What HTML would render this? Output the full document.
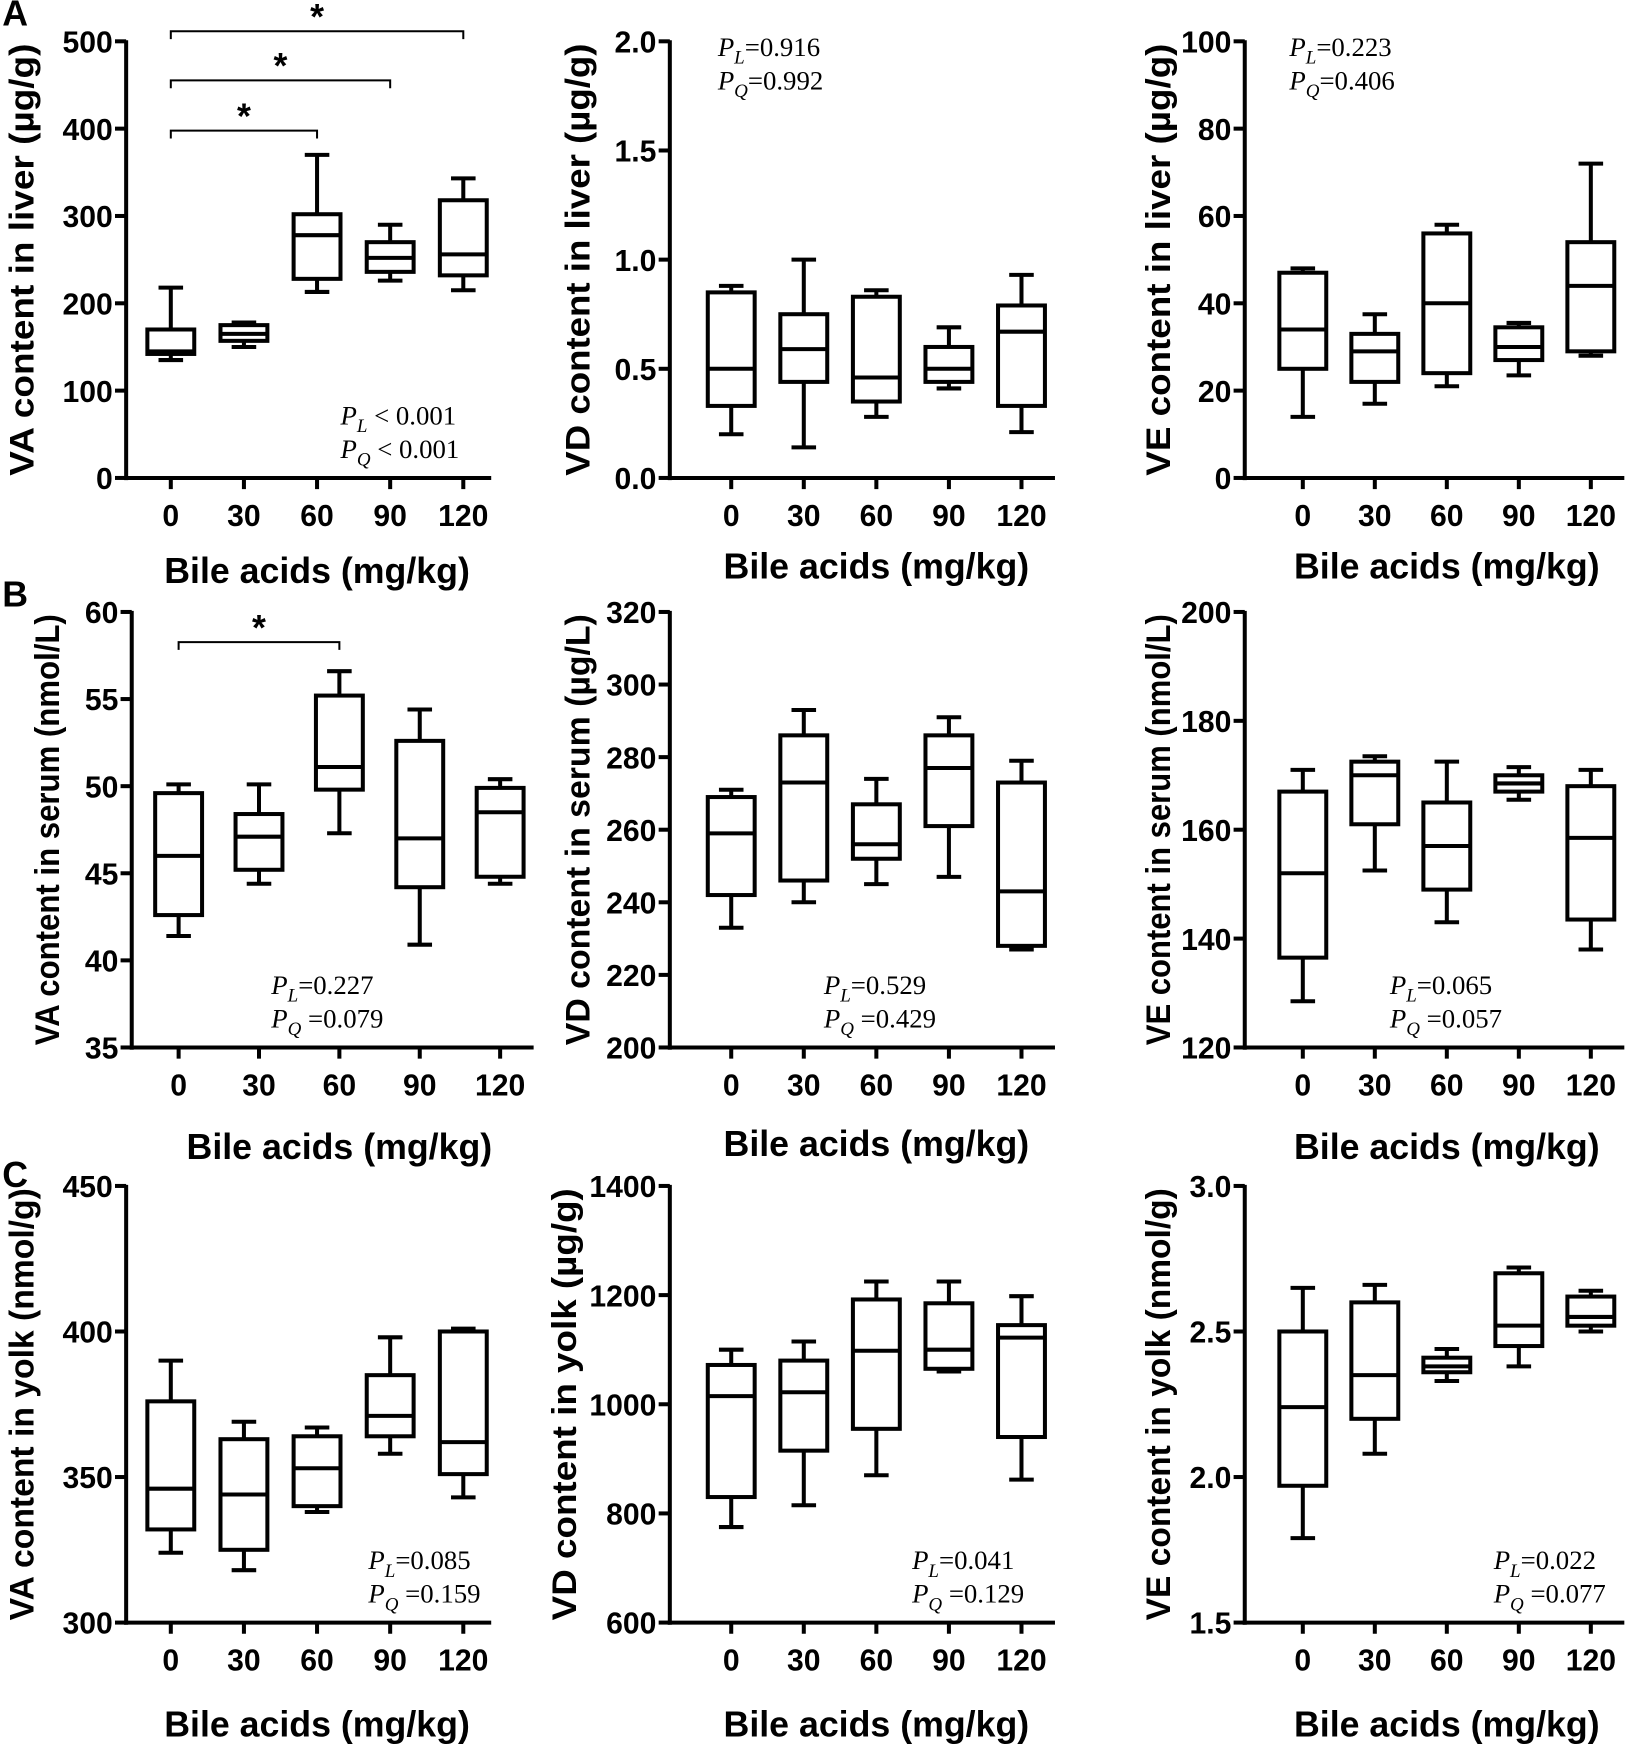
<!DOCTYPE html>
<html><head><meta charset="utf-8"><style>
html,body{margin:0;padding:0;background:#fff;}
svg{display:block;}
.tick{font-family:"Liberation Sans",Arial,sans-serif;font-weight:bold;font-size:27px;}
.ttl{font-family:"Liberation Sans",Arial,sans-serif;font-weight:bold;font-size:32px;}
.ytl{font-family:"Liberation Sans",Arial,sans-serif;font-weight:bold;font-size:31px;}
.pv{font-family:"Liberation Serif",serif;font-size:24px;}
</style></head><body>
<svg id="fig" width="1650" height="1751" viewBox="0 0 1478 1568" preserveAspectRatio="none" xmlns="http://www.w3.org/2000/svg"></svg>
<script>
const categories = ["0","30","60","90","120"];
// five-number summaries [min,q1,median,q3,max] per group
const vaLiver = [[135,142,145,170,218],[150,157,165,175,178],[213,228,278,302,370],[226,236,252,270,290],[215,232,256,318,343]];
const vdLiver = [[0.2,0.33,0.5,0.85,0.88],[0.14,0.44,0.59,0.75,1.0],[0.28,0.35,0.46,0.83,0.86],[0.41,0.44,0.5,0.6,0.69],[0.21,0.33,0.67,0.79,0.93]];
const veLiver = [[14,25,34,47,48],[17,22,29,33,37.5],[21,24,40,56,58],[23.5,27,30,34.5,35.5],[28,29,44,54,72]];
const vaSerum = [[41.4,42.6,46,49.6,50.1],[44.4,45.2,47.1,48.4,50.1],[47.3,49.8,51.1,55.2,56.6],[40.9,44.2,47,52.6,54.4],[44.4,44.8,48.5,49.9,50.4]];
const vdSerum = [[233,242,259,269,271],[240,246,273,286,293],[245,252,256,267,274],[247,261,277,286,291],[227,228,243,273,279]];
const veSerum = [[128.5,136.5,152,167,171],[152.5,161,170,172.5,173.5],[143,149,157,165,172.5],[165.5,167,168.5,170,171.5],[138,143.5,158.5,168,171]];
const vaYolk = [[324,332,346,376,390],[318,325,344,363,369],[338,340,353,364,367],[358,364,371,385,398],[343,351,362,400,401]];
const vdYolk = [[775,830,1015,1072,1100],[815,915,1022,1080,1115],[870,955,1098,1192,1225],[1060,1065,1100,1185,1225],[862,940,1122,1145,1198]];
const veYolk = [[1.79,1.97,2.24,2.5,2.65],[2.08,2.2,2.35,2.6,2.66],[2.33,2.36,2.38,2.41,2.44],[2.38,2.45,2.52,2.7,2.72],[2.5,2.52,2.55,2.62,2.64]];
const ticksVaLiver = ["0","100","200","300","400","500"];
const ticksVdLiver = ["0.0","0.5","1.0","1.5","2.0"];
const ticksVeLiver = ["0","20","40","60","80","100"];
const ticksVaSerum = ["35","40","45","50","55","60"];
const ticksVdSerum = ["200","220","240","260","280","300","320"];
const ticksVeSerum = ["120","140","160","180","200"];
const ticksVaYolk = ["300","350","400","450"];
const ticksVdYolk = ["600","800","1000","1200","1400"];
const ticksVeYolk = ["1.5","2.0","2.5","3.0"];

const NS="http://www.w3.org/2000/svg";
const svg=document.getElementById('fig');
function el(tag,attrs,parent,text){const e=document.createElementNS(NS,tag);for(const k in attrs)e.setAttribute(k,attrs[k]);if(text!==undefined)e.textContent=text;(parent||svg).appendChild(e);return e;}

function panel(cfg){
  const g=el('g',{});
  
  
  const ticks=cfg.ticks.map(Number);
  const lo=ticks[0],hi=ticks[ticks.length-1];
  const y=v=>cfg.yb-(v-lo)/(hi-lo)*(cfg.yb-cfg.yt);
  const x=i=>cfg.xs[0]+i*(cfg.xs[1]-cfg.xs[0])/4;
  const st={stroke:'#000','stroke-width':3.6,fill:'none'};
  const ya=el('line',Object.assign({x1:cfg.ax,y1:cfg.yt-1,x2:cfg.ax,y2:cfg.yb+2},st),g);
  
  const xa=el('line',Object.assign({x1:cfg.ax-2,y1:cfg.yb,x2:cfg.xend,y2:cfg.yb},st),g);
  
  cfg.ticks.forEach((t,i)=>{
    const yy=y(Number(t));
    el('line',Object.assign({x1:cfg.ax-10,y1:yy,x2:cfg.ax,y2:yy},st),g);
    const tx=el('text',{x:cfg.ax-12,y:yy+10,'text-anchor':'end',class:'tick'},g,t);
    
  });
  categories.forEach((c,i)=>{
    el('line',Object.assign({x1:x(i),y1:cfg.yb,x2:x(i),y2:cfg.yb+10},st),g);
    const tx=el('text',{x:x(i),y:cfg.yb+43,'text-anchor':'middle',class:'tick','font-size':29},g,c);
    
    const d=cfg.data[i];
    const b=el('g',{},g);
    
    
    const w=21,cw=11;
    el('rect',Object.assign({x:x(i)-w,y:y(d[3]),width:2*w,height:y(d[1])-y(d[3])},st),b);
    el('line',Object.assign({x1:x(i)-w,y1:y(d[2]),x2:x(i)+w,y2:y(d[2])},st),b);
    el('line',Object.assign({x1:x(i),y1:y(d[3]),x2:x(i),y2:y(d[4])},st),b);
    el('line',Object.assign({x1:x(i),y1:y(d[1]),x2:x(i),y2:y(d[0])},st),b);
    el('line',Object.assign({x1:x(i)-cw,y1:y(d[4]),x2:x(i)+cw,y2:y(d[4])},st),b);
    el('line',Object.assign({x1:x(i)-cw,y1:y(d[0]),x2:x(i)+cw,y2:y(d[0])},st),b);
  });
  const yt=el('text',{x:0,y:0,'text-anchor':'middle',class:'ytl',textLength:cfg.yb-cfg.yt-4,lengthAdjust:'spacingAndGlyphs',transform:`translate(${cfg.ytx},${(cfg.yt+cfg.yb)/2}) rotate(-90)`},g,cfg.ylabel);
  
  const xt=el('text',{x:(cfg.xs[0]+cfg.xs[1])/2,y:cfg.xly,'text-anchor':'middle',class:'ttl'},g,'Bile acids (mg/kg)');
  
  cfg.pv.forEach((p,k)=>{
    const t=el('text',{x:cfg.px,y:cfg.py+k*30,class:'pv'},g);
    
    
    el('tspan',{'font-style':'italic'},t,'P');
    el('tspan',{'font-style':'italic',dy:7,'font-size':17},t,k?'Q':'L');
    el('tspan',{dy:-7},t,p);
  });
  (cfg.sig||[]).forEach(s=>{
    const sg=el('g',{},g);
    
    
    el('path',{d:`M${x(s[0])},${s[2]+7} V${s[2]} H${x(s[1])} V${s[2]+7}`,stroke:'#000','stroke-width':1.8,fill:'none'},sg);
    el('text',{x:(x(s[0])+x(s[1]))/2,y:s[2]-2,'text-anchor':'middle',class:'ttl','font-size':30},sg,'*');
  });
}
const cA=[153,415],cB=[655,915],cC=[1167,1425];
panel({name:'va-liver-panel',data:vaLiver,ticks:ticksVaLiver,ax:113,yt:37,yb:428,xs:cA,xend:440,ytx:30,xly:522,ylabel:'VA content in liver (µg/g)',px:305,py:380,pv:[' < 0.001',' < 0.001'],sig:[[0,2,117],[0,3,72],[0,4,28]]});
panel({name:'vd-liver-panel',data:vdLiver,ticks:ticksVdLiver,ax:600,yt:37,yb:428,xs:cB,xend:945,ytx:528,xly:518,ylabel:'VD content in liver (µg/g)',px:643,py:50,pv:['=0.916','=0.992']});
panel({name:'ve-liver-panel',data:veLiver,ticks:ticksVeLiver,ax:1115,yt:37,yb:428,xs:cC,xend:1455,ytx:1048,xly:518,ylabel:'VE content in liver (µg/g)',px:1155,py:50,pv:['=0.223','=0.406']});
panel({name:'va-serum-panel',data:vaSerum,ticks:ticksVaSerum,ax:118,yt:548,yb:938,xs:[160,448],xend:478,ytx:53,xly:1038,ylabel:'VA content in serum (nmol/L)',px:243,py:890,pv:['=0.227',' =0.079'],sig:[[0,2,575]]});
panel({name:'vd-serum-panel',data:vdSerum,ticks:ticksVdSerum,ax:600,yt:548,yb:938,xs:cB,xend:945,ytx:528,xly:1035,ylabel:'VD content in serum (µg/L)',px:738,py:890,pv:['=0.529',' =0.429']});
panel({name:'ve-serum-panel',data:veSerum,ticks:ticksVeSerum,ax:1115,yt:548,yb:938,xs:cC,xend:1455,ytx:1048,xly:1038,ylabel:'VE content in serum (nmol/L)',px:1245,py:890,pv:['=0.065',' =0.057']});
panel({name:'va-yolk-panel',data:vaYolk,ticks:ticksVaYolk,ax:113,yt:1062,yb:1453,xs:cA,xend:440,ytx:30,xly:1555,ylabel:'VA content in yolk (nmol/g)',px:330,py:1405,pv:['=0.085',' =0.159']});
panel({name:'vd-yolk-panel',data:vdYolk,ticks:ticksVdYolk,ax:600,yt:1062,yb:1453,xs:cB,xend:945,ytx:516,xly:1555,ylabel:'VD content in yolk (µg/g)',px:817,py:1405,pv:['=0.041',' =0.129']});
panel({name:'ve-yolk-panel',data:veYolk,ticks:ticksVeYolk,ax:1115,yt:1062,yb:1453,xs:cC,xend:1455,ytx:1048,xly:1555,ylabel:'VE content in yolk (nmol/g)',px:1338,py:1405,pv:['=0.022',' =0.077']});
[['A',18],['B',538],['C',1058]].forEach(p=>{
  const t=el('text',{x:2,y:p[1]+5,class:'ttl','font-size':27},svg,p[0]);
  
  
});
</script>
</body></html>
